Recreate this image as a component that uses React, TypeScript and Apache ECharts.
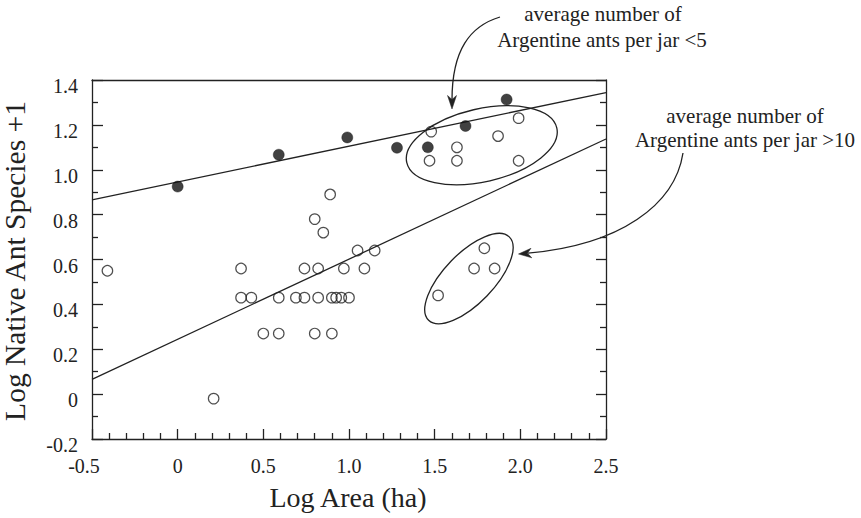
import React, { useEffect, useRef } from "react";
import * as echarts from "echarts";

// Log Area (ha), Log Native Ant Species + 1
const filledPoints: number[][] = [
  [0.0, 0.925], [0.59, 1.067], [0.99, 1.144], [1.28, 1.098], [1.46, 1.1], [1.68, 1.195], [1.92, 1.313],
];
const openPoints: number[][] = [
  [-0.41, 0.55], [0.21, -0.02], [0.37, 0.56], [0.37, 0.43], [0.43, 0.43], [0.5, 0.27], [0.59, 0.27],
  [0.59, 0.43], [0.69, 0.43], [0.74, 0.43], [0.74, 0.56], [0.8, 0.78], [0.8, 0.27], [0.82, 0.43],
  [0.82, 0.56], [0.85, 0.72], [0.89, 0.89], [0.9, 0.27], [0.9, 0.43], [0.925, 0.43], [0.955, 0.43],
  [0.97, 0.56], [1.0, 0.43], [1.05, 0.64], [1.09, 0.56], [1.15, 0.64],
  [1.52, 0.44], [1.73, 0.56], [1.79, 0.65], [1.85, 0.56],
  [1.48, 1.17], [1.47, 1.04], [1.63, 1.1], [1.63, 1.04], [1.87, 1.15], [1.99, 1.23], [1.99, 1.04],
];
const upperLine: number[][] = [[-0.5, 0.866], [2.5, 1.344]];
const lowerLine: number[][] = [[-0.5, 0.066], [2.5, 1.137]];
// centre x, centre y, semi-axis a (px), semi-axis b (px), tilt (deg)
const ellipses: number[][] = [
  [1.775, 1.109, 77, 36.5, 13],
  [1.7, 0.515, 58, 25, 46],
];
const xTicks = { min: -0.5, max: 2.5, step: 0.5 };
const yTicks = { min: -0.2, max: 1.4, step: 0.2 };
const noteLow = ["average number of", "Argentine ants per jar <5"];
const noteHigh = ["average number of", "Argentine ants per jar >10"];

const INK = "#222";
const FONT = "'Liberation Serif', 'Times New Roman', Times, serif";

const fmt = (v: number) => (Math.abs(v) < 1e-9 ? "0" : v.toFixed(1));

const txt = (text: string, x: number, y: number, size: number, rotation = 0) => ({
  type: "text",
  x,
  y,
  rotation,
  style: {
    text,
    fontFamily: FONT,
    fontSize: size,
    fill: INK,
    align: "center",
    verticalAlign: "middle",
  },
});

export default function App() {
  const ref = useRef<HTMLDivElement>(null);
  useEffect(() => {
    if (!ref.current) return;
    const chart = echarts.init(ref.current, undefined, { renderer: "svg" });
    const lineStyle = { color: INK, width: 1.3 };
    const baseAxis = {
      type: "value" as const,
      axisLine: { show: true, onZero: false, lineStyle },
      splitLine: { show: false },
      minorSplitLine: { show: false },
    };
    const option: any = {
      animation: false,
      textStyle: { fontFamily: FONT },
      grid: { left: 92, right: 255, top: 80, bottom: 79 },
      xAxis: [
        {
          ...baseAxis,
          position: "bottom",
          min: xTicks.min,
          max: xTicks.max,
          interval: xTicks.step,
          axisTick: { show: true, inside: true, length: 10, lineStyle },
          minorTick: { show: true, splitNumber: 5, length: 6, lineStyle },
          axisLabel: {
            margin: 17,
            fontFamily: FONT,
            fontSize: 20,
            color: INK,
            formatter: (v: number) => (Math.abs(v + 0.5) < 1e-9 ? "{n|-0.5}" : fmt(v)),
            rich: { n: { fontFamily: FONT, fontSize: 20, color: INK, padding: [0, 16, 0, 0] } },
          },
        },
        {
          ...baseAxis,
          position: "top",
          min: xTicks.min,
          max: xTicks.max,
          interval: xTicks.step,
          axisTick: { show: false },
          axisLabel: { show: false },
        },
      ],
      yAxis: [
        {
          ...baseAxis,
          position: "left",
          min: yTicks.min,
          max: yTicks.max,
          interval: yTicks.step,
          axisTick: { show: true, inside: true, length: 11, lineStyle },
          minorTick: { show: true, splitNumber: 2, length: 6, lineStyle },
          axisLabel: {
            margin: 14,
            fontFamily: FONT,
            fontSize: 20,
            color: INK,
            formatter: (v: number) => `{v|${fmt(v)}}`,
            rich: { v: { fontFamily: FONT, fontSize: 20, color: INK, padding: [12, 0, 0, 0] } },
          },
        },
        {
          ...baseAxis,
          position: "right",
          min: yTicks.min,
          max: yTicks.max,
          interval: yTicks.step,
          axisTick: { show: true, inside: true, length: 10, lineStyle },
          minorTick: { show: true, splitNumber: 2, length: 6, lineStyle },
          axisLabel: { show: false },
        },
      ],
      series: [
        {
          type: "line",
          data: upperLine,
          symbol: "none",
          lineStyle: { color: INK, width: 1.3 },
          z: 2,
        },
        {
          type: "line",
          data: lowerLine,
          symbol: "none",
          lineStyle: { color: INK, width: 1.3 },
          z: 2,
        },
        {
          type: "custom",
          data: ellipses,
          renderItem: (params: any, api: any) => {
            const c = api.coord([api.value(0), api.value(1)]);
            return {
              type: "ellipse",
              x: c[0],
              y: c[1],
              rotation: (api.value(4) * Math.PI) / 180,
              shape: { cx: 0, cy: 0, rx: api.value(2), ry: api.value(3) },
              style: { fill: "none", stroke: INK, lineWidth: 1.3 },
            };
          },
          z: 2,
        },
        {
          type: "scatter",
          data: openPoints,
          symbol: "circle",
          symbolSize: 10.5,
          itemStyle: { color: "rgba(255,255,255,0)", borderColor: INK, borderWidth: 1.2 },
          z: 3,
        },
        {
          type: "scatter",
          data: filledPoints,
          symbol: "circle",
          symbolSize: 11,
          itemStyle: { color: "#111", borderColor: "#111", borderWidth: 0.5 },
          z: 4,
        },
      ],
      graphic: [
        txt("Log Area (ha)", 348, 497, 28),
        txt("Log Native Ant Species +1", 15, 261, 29.5, Math.PI / 2),
        txt(noteLow[0], 603, 13.5, 21),
        txt(noteLow[1], 602, 39.5, 21),
        txt(noteHigh[0], 745, 115.5, 21),
        txt(noteHigh[1], 745, 139.5, 21),
        {
          type: "bezierCurve",
          shape: { x1: 500, y1: 17, cpx1: 470, cpy1: 26, cpx2: 452, cpy2: 50, x2: 452, y2: 100 },
          style: { stroke: INK, lineWidth: 1.3, fill: null },
        },
        {
          type: "polygon",
          shape: { points: [[452, 109], [447.5, 95.5], [452, 99.5], [456.5, 95.5]] },
          style: { fill: INK, stroke: INK, lineWidth: 0.5 },
        },
        {
          type: "bezierCurve",
          shape: { x1: 683, y1: 153, cpx1: 675, cpy1: 205, cpx2: 620, cpy2: 245, x2: 528, y2: 253.2 },
          style: { stroke: INK, lineWidth: 1.3, fill: null },
        },
        {
          type: "polygon",
          shape: { points: [[518.5, 254], [531.8, 257.8], [527.5, 253.2], [531, 248.3]] },
          style: { fill: INK, stroke: INK, lineWidth: 0.5 },
        },
      ],
    };
    chart.setOption(option);
    return () => chart.dispose();
  }, []);
  return (
    <div
      ref={ref}
      style={{ position: "fixed", left: 0, top: 0, width: 861, height: 518, background: "#fff" }}
    />
  );
}
